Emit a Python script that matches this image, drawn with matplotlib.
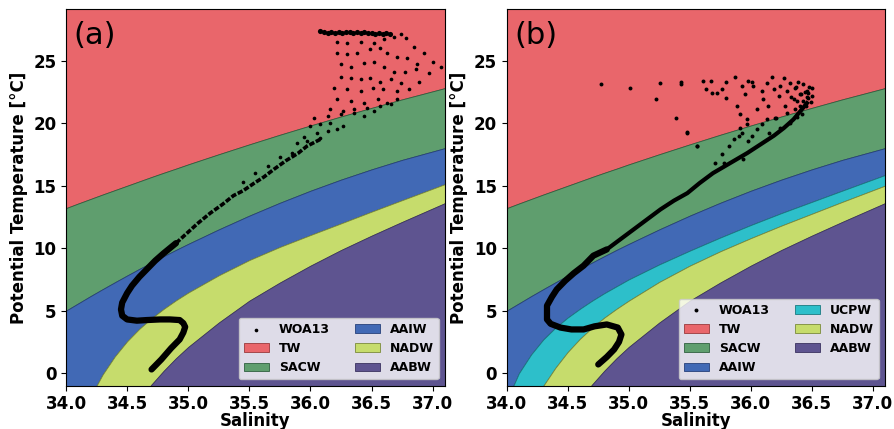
import numpy as np
import matplotlib
matplotlib.use('Agg')
import matplotlib.pyplot as plt

# salinity grid for the water-mass boundaries
sal_grid = [34.0, 34.1, 34.2, 34.3, 34.4, 34.5, 34.6, 34.7, 34.8, 34.9, 35.0,
            35.25, 35.5, 35.75, 36.0, 36.25, 36.5, 36.75, 37.1]

tw_sacw = [13.2, 13.57, 13.93, 14.29, 14.64, 14.99, 15.34, 15.69, 16.03, 16.36, 16.7,
           17.51, 18.3, 19.07, 19.81, 20.53, 21.22, 21.9, 22.8]
sacw_aaiw = [5.0, 5.58, 6.16, 6.72, 7.27, 7.81, 8.34, 8.85, 9.36, 9.86, 10.34,
             11.5, 12.6, 13.63, 14.59, 15.48, 16.3, 17.06, 18.0]
aaiw_nadw = [-5.8, -3.8, -1.9, -0.1, 1.35, 2.55, 3.55, 4.4, 5.15, 5.83, 6.45,
             7.83, 9.05, 10.1, 11.05, 11.98, 12.92, 13.84, 15.12]
aaiw_ucpw = [-2.2, 0.0, 1.5, 2.7, 3.65, 4.45, 5.15, 5.8, 6.4, 6.95, 7.5,
             8.7, 9.8, 10.85, 11.85, 12.8, 13.7, 14.6, 15.85]
ucpw_nadw = [-6.5, -4.6, -2.7, -1.0, 0.45, 1.7, 2.75, 3.65, 4.45, 5.15, 5.8,
             7.3, 8.6, 9.75, 10.8, 11.8, 12.75, 13.7, 15.0]
nadw_aabw = [-11.5, -9.7, -8.0, -6.3, -4.8, -3.4, -2.1, -0.9, 0.2, 1.2, 2.1,
             4.05, 5.8, 7.25, 8.6, 9.85, 11.0, 12.1, 13.6]

# WOA13 profile (a)
prof_a_S = [34.70, 34.78, 34.86, 34.93, 34.96, 34.975, 34.96, 34.93, 34.85, 34.77, 34.66,
            34.58, 34.50, 34.46, 34.45, 34.46, 34.50, 34.54, 34.60, 34.66, 34.73, 34.80,
            34.90, 34.99, 35.08, 35.18, 35.28, 35.37, 35.45, 35.54, 35.62, 35.70, 35.80,
            35.90, 35.97, 36.08]
prof_a_T = [0.3, 1.1, 2.0, 2.7, 3.25, 3.7, 4.0, 4.25, 4.3, 4.3, 4.25,
            4.2, 4.3, 4.6, 5.1, 5.65, 6.4, 7.0, 7.7, 8.3, 9.0, 9.6,
            10.4, 11.2, 12.0, 12.8, 13.5, 14.2, 14.6, 15.2, 15.7, 16.3, 17.0,
            17.6, 18.15, 18.7]
scat_a_S = [36.22, 36.30, 36.41, 36.52, 36.60, 36.68, 36.74, 36.78, 36.85, 36.93, 37.00, 37.07,
            36.22, 36.30, 36.38, 36.49, 36.57, 36.63, 36.71, 36.79, 36.87, 36.97,
            36.25, 36.33, 36.44, 36.52, 36.60, 36.68, 36.77, 36.86,
            36.25, 36.33, 36.41, 36.49, 36.57, 36.66, 36.74, 36.81, 36.89,
            36.19, 36.30, 36.41, 36.51, 36.59, 36.71,
            36.22, 36.33, 36.44, 36.55, 36.63, 36.71,
            36.16, 36.27, 36.36, 36.46, 36.57, 36.66,
            36.03, 36.14, 36.25, 36.36, 36.44, 36.52,
            36.00, 36.08, 36.16, 36.27,
            35.95, 36.05, 36.14, 36.22,
            35.89, 35.97, 36.08,
            35.75, 35.65, 35.55, 35.45, 35.85]
scat_a_T = [26.5, 26.4, 26.5, 26.4, 26.7, 26.9, 27.1, 26.8, 26.1, 25.6, 24.9, 24.5,
            25.6, 25.5, 25.6, 25.9, 26.0, 25.6, 25.3, 25.2, 24.7, 24.0,
            24.7, 24.5, 24.8, 24.9, 24.5, 24.1, 24.1, 24.3,
            23.7, 23.6, 23.5, 23.6, 23.3, 23.5, 23.2, 22.7, 23.3,
            22.8, 22.7, 22.6, 22.8, 22.7, 22.6,
            21.9, 21.8, 21.6, 21.9, 21.6, 21.9,
            21.1, 21.0, 21.1, 21.2, 21.4, 21.5,
            20.4, 20.6, 20.7, 20.8, 20.6, 21.0,
            19.8, 19.9, 20.0, 19.8,
            18.9, 19.2, 19.4, 19.5,
            18.4, 18.6, 18.8,
            17.3, 16.6, 16.0, 15.3, 17.6]
top_a_S = [36.08, 36.11, 36.14, 36.17, 36.20, 36.23, 36.26, 36.29, 36.32, 36.35,
           36.38, 36.41, 36.44, 36.47, 36.50, 36.53, 36.56, 36.59, 36.62, 36.65]
top_a_T = [27.4, 27.3, 27.2, 27.3, 27.2, 27.3, 27.2, 27.3, 27.3, 27.2,
           27.3, 27.2, 27.3, 27.2, 27.2, 27.1, 27.2, 27.1, 27.2, 27.1]

# WOA13 profile (b)
prof_b_S = [34.75, 34.82, 34.88, 34.92, 34.94, 34.91, 34.82, 34.72, 34.63, 34.53, 34.44,
            34.36, 34.33, 34.33, 34.37, 34.41, 34.48, 34.55, 34.63, 34.71, 34.82, 34.93,
            35.04, 35.15, 35.26, 35.37, 35.48, 35.58, 35.69, 35.83, 35.97, 36.08, 36.19,
            36.27, 36.35, 36.41, 36.46]
prof_b_T = [0.7, 1.3, 1.9, 2.5, 3.1, 3.65, 3.9, 3.75, 3.5, 3.5, 3.65,
            3.95, 4.3, 5.4, 6.1, 6.7, 7.4, 8.0, 8.6, 9.4, 9.9, 10.7,
            11.5, 12.3, 13.1, 13.8, 14.4, 15.2, 16.0, 16.8, 17.6, 18.3, 19.0,
            19.6, 20.3, 21.0, 21.6]
scat_b_S = [34.77, 35.01, 35.22, 35.26, 35.39, 35.43, 35.43, 35.48, 35.56, 35.61, 35.63,
            35.67, 35.68, 35.72, 35.76, 35.78, 35.80, 35.80, 35.82, 35.87, 35.89, 35.90,
            35.91, 35.93, 35.94, 35.95, 35.97, 35.98, 36.01, 36.02, 36.05, 36.09, 36.10,
            36.13, 36.14, 36.17, 36.19, 36.20, 36.23, 36.24, 36.27, 36.28, 36.30, 36.32,
            36.35, 36.36, 36.39, 36.40, 36.43, 36.43, 36.46, 36.47, 36.50, 36.50,
            35.48, 35.56, 35.71, 35.76, 35.86, 35.91, 35.93, 35.97, 35.98, 36.01, 36.05,
            36.09, 36.13, 36.15, 36.21, 36.24, 36.30, 36.32, 36.36, 36.38, 36.40, 36.42,
            36.44, 36.46, 36.48, 36.45, 36.38, 36.33, 36.41, 36.49, 36.47, 36.37]
scat_b_T = [23.1, 22.8, 21.9, 23.2, 20.4, 23.3, 23.1, 19.3, 18.2, 23.4, 22.7,
            23.4, 22.4, 22.4, 22.7, 16.8, 23.3, 22.0, 18.2, 23.7, 21.4, 19.0,
            20.7, 23.0, 17.1, 22.3, 19.9, 23.4, 23.3, 23.0, 21.1, 22.6, 21.9,
            23.2, 21.4, 23.7, 22.7, 20.4, 22.2, 23.0, 23.6, 21.4, 22.6, 23.2,
            21.9, 22.8, 23.3, 22.3, 23.1, 21.8, 22.6, 22.0, 22.8, 22.2,
            19.2, 18.2, 16.8, 17.5, 18.7, 19.6, 19.2, 20.3, 18.6, 19.0, 19.5,
            19.9, 20.3, 19.2, 20.4, 19.6, 20.8, 20.0, 21.1, 20.5, 21.35, 20.7,
            22.5, 22.1, 22.9, 21.4, 21.8, 22.1, 22.3, 21.7, 22.4, 22.9]

colors = {'TW': '#E9666B', 'SACW': '#5F9E6E', 'AAIW': '#4169B5', 'UCPW': '#2DBFCA',
          'NADW': '#C6DC6C', 'AABW': '#5E5490'}
edge = {'TW': '#9A3A3C', 'SACW': '#2F5F3F', 'AAIW': '#26407A', 'UCPW': '#1A7A80',
        'NADW': '#7A8A3A', 'AABW': '#3A3260'}

plt.rcParams['font.weight'] = 'bold'
plt.rcParams['axes.labelweight'] = 'bold'

fig = plt.figure(figsize=(8.94, 4.29), dpi=100)
ax_a = fig.add_axes([0.0738, 0.1009, 0.4239, 0.8774])
ax_b = fig.add_axes([0.5668, 0.1009, 0.4232, 0.8774])

S = np.array(sal_grid)


def layers(ax, bounds, names):
    # bounds from top to bottom, names for each layer
    top = np.full(len(S), 40.0)
    for name, b in zip(names, bounds + [np.full(len(S), -20.0)]):
        ax.fill_between(S, b, top, facecolor=colors[name], edgecolor=edge[name],
                        linewidth=0.6, label=name)
        top = np.array(b)


def style(ax, tag):
    ax.set_xlim(34.0, 37.1)
    ax.set_ylim(-1, 29.1)
    ax.set_xticks([34.0, 34.5, 35.0, 35.5, 36.0, 36.5, 37.0])
    ax.set_xticklabels(['%.1f' % v for v in ax.get_xticks()])
    ax.set_yticks([0, 5, 10, 15, 20, 25])
    ax.tick_params(labelsize=12)
    ax.set_xlabel('Salinity', fontsize=12, labelpad=-1)
    ax.set_ylabel('Potential Temperature [°C]', fontsize=12)
    ax.text(0.02, 0.968, tag, transform=ax.transAxes, fontsize=22, fontweight='normal',
            va='top', ha='left')


# (a)
ax_a.scatter(scat_a_S, scat_a_T, s=7, color='k', linewidths=0, zorder=5, label='WOA13')
ax_a.scatter(top_a_S, top_a_T, s=14, color='k', linewidths=0, zorder=5)
ax_a.plot(prof_a_S[:23], prof_a_T[:23], color='k', lw=4.5, zorder=5, solid_capstyle='round')
ax_a.plot(prof_a_S[22:], prof_a_T[22:], color='k', lw=2.6, zorder=5, ls=(0, (1.5, 0.5)))
layers(ax_a, [tw_sacw, sacw_aaiw, aaiw_nadw, nadw_aabw],
       ['TW', 'SACW', 'AAIW', 'NADW', 'AABW'])
style(ax_a, '(a)')
h, l = ax_a.get_legend_handles_labels()
order = ['WOA13', 'TW', 'SACW', 'AAIW', 'NADW', 'AABW']
hs = [h[l.index(n)] for n in order]
ax_a.legend(hs, order, loc='lower right', ncol=2,
            prop={'weight': 'bold', 'size': 9})

# (b)
ax_b.scatter(scat_b_S, scat_b_T, s=8, color='k', linewidths=0, zorder=5, label='WOA13')
ax_b.plot(prof_b_S[:21], prof_b_T[:21], color='k', lw=4.5, zorder=5, solid_capstyle='round')
ax_b.plot(prof_b_S[20:], prof_b_T[20:], color='k', lw=3.0, zorder=5)
layers(ax_b, [tw_sacw, sacw_aaiw, aaiw_ucpw, ucpw_nadw, nadw_aabw],
       ['TW', 'SACW', 'AAIW', 'UCPW', 'NADW', 'AABW'])
style(ax_b, '(b)')
h, l = ax_b.get_legend_handles_labels()
order = ['WOA13', 'TW', 'SACW', 'AAIW', 'UCPW', 'NADW', 'AABW']
hs = [h[l.index(n)] for n in order]
ax_b.legend(hs, order, loc='lower right', ncol=2,
            prop={'weight': 'bold', 'size': 9})

fig.savefig('out.png', dpi=100)
